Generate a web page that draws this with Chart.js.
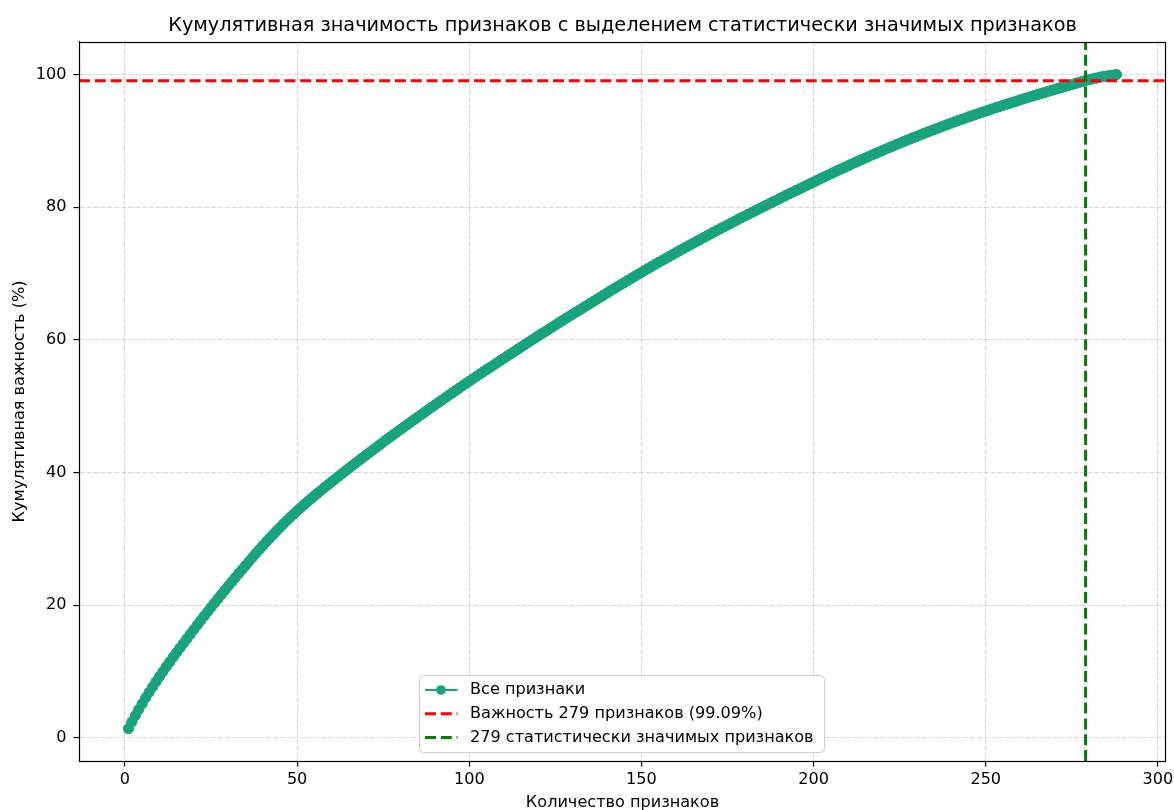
<!DOCTYPE html>
<html>
<head>
<meta charset="utf-8">
<script src="https://cdn.jsdelivr.net/npm/chart.js@4.4.0/dist/chart.umd.min.js"></script>
<style>
  html, body { margin: 0; padding: 0; background: #ffffff; }
  canvas { display: block; }
</style>
</head>
<body>
<canvas id="chart" width="1174" height="810"></canvas>
<script>
// ---------------- DATA ----------------
const chartTitle = 'Кумулятивная значимость признаков с выделением статистически значимых признаков';
const xAxisLabel = 'Количество признаков';
const yAxisLabel = 'Кумулятивная важность (%)';
const seriesLabels = ['Все признаки', 'Важность 279 признаков (99.09%)', '279 статистически значимых признаков'];

// cumulative importance (%) for feature counts 1..288
const cumulativeImportance = [
  1.40, 2.40, 3.36, 4.28, 5.17, 6.03, 6.86, 7.67, 8.46, 9.23,
  9.98, 10.72, 11.45, 12.17, 12.88, 13.58, 14.28, 14.97, 15.66, 16.34,
  17.02, 17.69, 18.36, 19.02, 19.68, 20.33, 20.98, 21.62, 22.26, 22.89,
  23.52, 24.14, 24.76, 25.37, 25.97, 26.59, 27.20, 27.80, 28.39, 28.97,
  29.54, 30.10, 30.65, 31.19, 31.72, 32.24, 32.75, 33.25, 33.74, 34.22,
  34.69, 35.15, 35.60, 36.04, 36.48, 36.91, 37.34, 37.76, 38.18, 38.60,
  39.01, 39.42, 39.83, 40.24, 40.64, 41.04, 41.44, 41.84, 42.24, 42.63,
  43.02, 43.41, 43.80, 44.19, 44.58, 44.97, 45.35, 45.73, 46.11, 46.49,
  46.87, 47.24, 47.61, 47.98, 48.35, 48.72, 49.09, 49.46, 49.83, 50.19,
  50.55, 50.91, 51.27, 51.63, 51.99, 52.35, 52.71, 53.07, 53.43, 53.78,
  54.13, 54.48, 54.83, 55.17, 55.51, 55.85, 56.19, 56.53, 56.87, 57.21,
  57.55, 57.89, 58.23, 58.57, 58.91, 59.25, 59.59, 59.93, 60.26, 60.59,
  60.92, 61.25, 61.58, 61.91, 62.24, 62.57, 62.90, 63.23, 63.55, 63.87,
  64.19, 64.51, 64.83, 65.15, 65.47, 65.79, 66.11, 66.43, 66.75, 67.07,
  67.39, 67.71, 68.02, 68.33, 68.64, 68.95, 69.26, 69.57, 69.88, 70.19,
  70.49, 70.79, 71.09, 71.39, 71.69, 71.98, 72.27, 72.56, 72.85, 73.14,
  73.43, 73.72, 74.01, 74.29, 74.57, 74.85, 75.13, 75.41, 75.69, 75.97,
  76.25, 76.52, 76.79, 77.06, 77.33, 77.60, 77.87, 78.14, 78.41, 78.68,
  78.94, 79.20, 79.46, 79.72, 79.98, 80.24, 80.50, 80.76, 81.02, 81.28,
  81.54, 81.80, 82.05, 82.30, 82.55, 82.80, 83.05, 83.30, 83.55, 83.80,
  84.05, 84.31, 84.56, 84.80, 85.05, 85.30, 85.54, 85.78, 86.02, 86.26,
  86.50, 86.74, 86.97, 87.20, 87.43, 87.66, 87.89, 88.12, 88.34, 88.56,
  88.79, 89.01, 89.22, 89.44, 89.66, 89.87, 90.08, 90.29, 90.50, 90.71,
  90.91, 91.12, 91.32, 91.52, 91.72, 91.91, 92.11, 92.30, 92.50, 92.69,
  92.88, 93.07, 93.25, 93.44, 93.62, 93.80, 93.98, 94.16, 94.34, 94.51,
  94.68, 94.85, 95.02, 95.19, 95.36, 95.53, 95.69, 95.86, 96.02, 96.19,
  96.35, 96.51, 96.67, 96.83, 96.99, 97.14, 97.30, 97.45, 97.61, 97.76,
  97.91, 98.06, 98.21, 98.36, 98.51, 98.66, 98.80, 98.95, 99.09, 99.23,
  99.36, 99.48, 99.59, 99.69, 99.78, 99.86, 99.93, 100.00
];

const significantCount = 279;      // vertical green line
const thresholdPercent = 99.09;    // horizontal red line

const xTicks = [0, 50, 100, 150, 200, 250, 300];
const yTicks = [0, 20, 40, 60, 80, 100];

// ---------------- LAYOUT / STYLE ----------------
const X_MIN = -13.35, X_MAX = 302.35;
const Y_MIN = -3.48, Y_MAX = 104.93;
const FONT = "'DejaVu Sans', sans-serif";
const FS = 16.1;
const TEAL = '#17a37e';

const mainData = cumulativeImportance.map((v, i) => ({ x: i + 1, y: v }));

const framePlugin = {
  id: 'frame',
  afterDatasetsDraw(chart) {
    const { ctx, chartArea: a } = chart;
    ctx.save();
    ctx.strokeStyle = '#000';
    ctx.lineWidth = 1.2;
    ctx.setLineDash([]);
    ctx.strokeRect(Math.round(a.left) + 0.5, Math.round(a.top) + 0.5,
                   Math.round(a.right - a.left) - 1, Math.round(a.bottom - a.top));
    ctx.restore();
  }
};

const legendPlugin = {
  id: 'mplLegend',
  afterDraw(chart) {
    const { ctx } = chart;
    const ds = chart.data.datasets;
    const bx = 419.5, by = 675.5, bw = 405, bh = 77, r = 4;
    ctx.save();
    ctx.beginPath();
    ctx.moveTo(bx + r, by);
    ctx.lineTo(bx + bw - r, by);
    ctx.quadraticCurveTo(bx + bw, by, bx + bw, by + r);
    ctx.lineTo(bx + bw, by + bh - r);
    ctx.quadraticCurveTo(bx + bw, by + bh, bx + bw - r, by + bh);
    ctx.lineTo(bx + r, by + bh);
    ctx.quadraticCurveTo(bx, by + bh, bx, by + bh - r);
    ctx.lineTo(bx, by + r);
    ctx.quadraticCurveTo(bx, by, bx + r, by);
    ctx.closePath();
    ctx.fillStyle = 'rgba(255,255,255,0.8)';
    ctx.fill();
    ctx.strokeStyle = '#cccccc';
    ctx.lineWidth = 1;
    ctx.stroke();

    ds.forEach((d, i) => {
      const cy = 690 + i * 23.7;
      ctx.save();
      ctx.strokeStyle = d.borderColor;
      ctx.lineWidth = i === 0 ? 2.2 : 3;
      ctx.setLineDash(d.borderDash || []);
      ctx.beginPath();
      ctx.moveTo(425, cy);
      ctx.lineTo(457.5, cy);
      ctx.stroke();
      if (i === 0) {
        ctx.setLineDash([]);
        ctx.fillStyle = d.backgroundColor;
        ctx.beginPath();
        ctx.arc(441, cy, 4.8, 0, Math.PI * 2);
        ctx.fill();
      }
      ctx.restore();
      ctx.fillStyle = '#000';
      ctx.font = FS + "px " + FONT;
      ctx.textBaseline = 'middle';
      ctx.textAlign = 'left';
      ctx.fillText(d.label, 470, cy);
    });
    ctx.restore();
  }
};

new Chart(document.getElementById('chart'), {
  type: 'scatter',
  data: {
    datasets: [
      {
        label: seriesLabels[0],
        data: mainData,
        showLine: true,
        borderColor: TEAL,
        backgroundColor: TEAL,
        borderWidth: 2.2,
        pointRadius: 5.1,
        pointBorderWidth: 1,
        pointBorderColor: TEAL,
        pointBackgroundColor: TEAL,
        order: 3
      },
      {
        label: seriesLabels[1],
        data: [{ x: X_MIN, y: thresholdPercent }, { x: X_MAX, y: thresholdPercent }],
        showLine: true,
        borderColor: '#ff0000',
        backgroundColor: '#ff0000',
        borderWidth: 3,
        borderDash: [11, 4.8],
        pointRadius: 0,
        order: 2
      },
      {
        label: seriesLabels[2],
        data: [{ x: significantCount, y: Y_MIN }, { x: significantCount, y: Y_MAX }],
        showLine: true,
        borderColor: '#008000',
        backgroundColor: '#008000',
        borderWidth: 3,
        borderDash: [11, 4.8],
        pointRadius: 0,
        order: 1
      }
    ]
  },
  options: {
    responsive: false,
    animation: false,
    devicePixelRatio: 1,
    layout: { padding: { left: 0, right: 8, top: 0, bottom: 0 } },
    plugins: {
      legend: { display: false },
      tooltip: { enabled: false },
      title: {
        display: true,
        fullSize: false,
        text: chartTitle,
        color: '#000',
        font: { family: FONT, size: 19.3, weight: 'normal' },
        padding: { top: 14.1, bottom: 4.7 }
      }
    },
    scales: {
      x: {
        type: 'linear',
        position: 'bottom',
        min: X_MIN,
        max: X_MAX,
        afterBuildTicks: (s) => { s.ticks = xTicks.map(v => ({ value: v })); },
        afterFit: (s) => { s.height = 49; s.paddingLeft = 0; s.paddingRight = 0; },
        ticks: {
          color: '#000',
          font: { family: FONT, size: FS },
          padding: 4,
          maxRotation: 0,
          autoSkip: false,
          callback: (v) => String(v)
        },
        grid: {
          color: 'rgba(176,176,176,0.5)',
          lineWidth: 1.1,
          tickLength: 5.6,
          tickColor: '#000',
          tickWidth: 1.2
        },
        border: { display: true, color: '#000', width: 1, dash: [4.8, 2.1] },
        title: {
          display: true,
          text: xAxisLabel,
          color: '#000',
          font: { family: FONT, size: FS },
          padding: { top: 0, bottom: -2 }
        }
      },
      y: {
        type: 'linear',
        position: 'left',
        min: Y_MIN,
        max: Y_MAX,
        afterBuildTicks: (s) => { s.ticks = yTicks.map(v => ({ value: v })); },
        afterFit: (s) => { s.width = 79; s.paddingTop = 0; s.paddingBottom = 0; },
        ticks: {
          color: '#000',
          font: { family: FONT, size: FS },
          padding: 7,
          autoSkip: false,
          callback: (v) => String(v)
        },
        grid: {
          color: 'rgba(176,176,176,0.5)',
          lineWidth: 1.1,
          tickLength: 5.6,
          tickColor: '#000',
          tickWidth: 1.2
        },
        border: { display: true, color: '#000', width: 1, dash: [4.8, 2.1] },
        title: {
          display: true,
          text: yAxisLabel,
          color: '#000',
          font: { family: FONT, size: FS },
          padding: { top: 9.7, bottom: 0 }
        }
      }
    }
  },
  plugins: [framePlugin, legendPlugin]
});
</script>
</body>
</html>
